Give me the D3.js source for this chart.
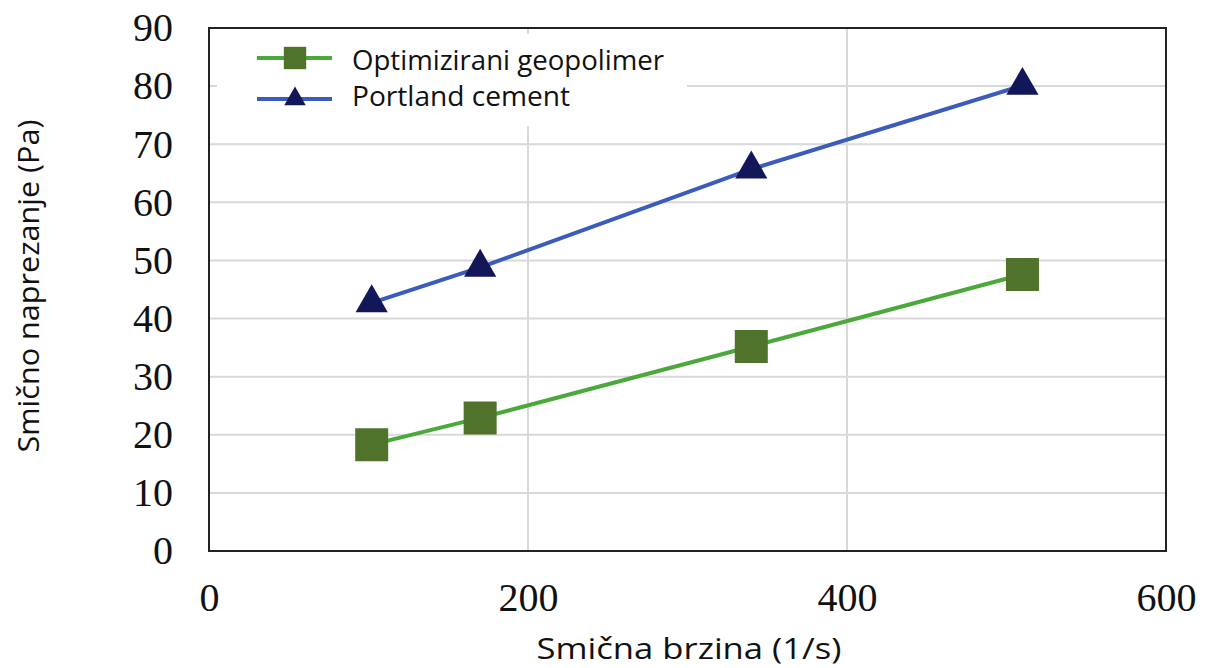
<!DOCTYPE html>
<html>
<head>
<meta charset="utf-8">
<script src="https://cdn.jsdelivr.net/npm/d3@7"></script>
<style>
  body { margin: 0; background: #fff; }
</style>
</head>
<body>
<div id="chart"></div>
<script>
// data
const shearRates = [102, 170, 340, 510];
const geopolymer = [18.3, 22.9, 35.2, 47.6];
const portland = [42.7, 48.8, 65.7, 80.1];
const xTicks = [0, 200, 400, 600];
const yTicks = [0, 10, 20, 30, 40, 50, 60, 70, 80, 90];
const seriesNames = ["Optimizirani geopolimer", "Portland cement"];

const W = 1207, H = 668;
const margin = { top: 28, right: 41, bottom: 117, left: 209 },
  width = W - margin.left - margin.right,
  height = H - margin.top - margin.bottom;

const sans = "'Open Sans', sans-serif";
const serif = "'Liberation Serif', serif";

const svg = d3.select("#chart").append("svg")
  .attr("width", W)
  .attr("height", H);

const g = svg.append("g")
  .attr("transform", "translate(" + margin.left + "," + margin.top + ")");

const x = d3.scaleLinear().domain([0, 600]).range([0, width]);
const y = d3.scaleLinear().domain([0, 90]).range([height, 0]);

// gridlines
g.selectAll(".hgrid")
  .data(yTicks.filter(d => d > 0 && d < 90))
  .enter().append("line")
    .attr("x1", 0).attr("x2", width)
    .attr("y1", d => y(d)).attr("y2", d => y(d))
    .style("stroke", "#d9d9d9")
    .style("stroke-width", 2);

g.selectAll(".vgrid")
  .data(xTicks.filter(d => d > 0 && d < 600))
  .enter().append("line")
    .attr("x1", d => x(d)).attr("x2", d => x(d))
    .attr("y1", 0).attr("y2", height)
    .style("stroke", "#d9d9d9")
    .style("stroke-width", 2);

// tick labels
const yAxis = g.append("g")
  .call(d3.axisLeft(y).tickValues(yTicks).tickSize(0).tickPadding(36));
yAxis.select(".domain").remove();
yAxis.selectAll("text")
  .style("font-family", serif)
  .style("font-size", "40px")
  .style("fill", "#111");

const xAxis = g.append("g")
  .attr("transform", "translate(0," + height + ")")
  .call(d3.axisBottom(x).tickValues(xTicks).tickSize(0).tickPadding(32));
xAxis.select(".domain").remove();
xAxis.selectAll("text")
  .style("font-family", serif)
  .style("font-size", "40px")
  .style("fill", "#111");

// lines and markers
const series = [
  { name: seriesNames[0], values: geopolymer, line: "#4ba83a", fill: "#50732b", shape: d3.symbolSquare, big: 1089, small: 500, textLen: 312 },
  { name: seriesNames[1], values: portland, line: "#3b5cbd", fill: "#14165a", shape: d3.symbolTriangle, big: 450, small: 200, textLen: 218 }
];

const line = d3.line()
  .x((d, i) => x(shearRates[i]))
  .y(d => y(d));

series.forEach(function (s) {
  g.append("path")
    .datum(s.values)
    .attr("d", line)
    .style("fill", "none")
    .style("stroke", s.line)
    .style("stroke-width", 4);

  g.selectAll(null)
    .data(s.values)
    .enter().append("path")
      .attr("transform", (d, i) => "translate(" + x(shearRates[i]) + "," + y(d) + ")")
      .attr("d", d3.symbol().type(s.shape).size(s.big))
      .style("fill", s.fill);
});

// legend with white background
const legend = g.append("g").attr("transform", "translate(8,6)");
legend.append("rect")
  .attr("width", 470).attr("height", 92)
  .style("fill", "#fff");

series.forEach(function (s, i) {
  const ly = 24 + i * 41;
  legend.append("line")
    .attr("x1", 40).attr("x2", 115)
    .attr("y1", ly).attr("y2", ly)
    .style("stroke", s.line)
    .style("stroke-width", 4);
  legend.append("path")
    .attr("transform", "translate(78," + ly + ")")
    .attr("d", d3.symbol().type(s.shape).size(s.small))
    .style("fill", s.fill);
  legend.append("text")
    .attr("x", 135)
    .attr("y", 36 + i * 36)
    .attr("textLength", s.textLen)
    .attr("lengthAdjust", "spacingAndGlyphs")
    .style("font-family", sans)
    .style("font-size", "28px")
    .style("fill", "#111")
    .text(s.name);
});

// frame
g.append("rect")
  .attr("width", width).attr("height", height)
  .style("fill", "none")
  .style("stroke", "#222")
  .style("stroke-width", 2);

// axis titles
svg.append("text")
  .attr("x", 689)
  .attr("y", 659)
  .attr("text-anchor", "middle")
  .attr("textLength", 305)
  .attr("lengthAdjust", "spacingAndGlyphs")
  .style("font-family", sans)
  .style("font-size", "29px")
  .style("fill", "#111")
  .text("Smična brzina (1/s)");

svg.append("text")
  .attr("transform", "translate(39,286) rotate(-90)")
  .attr("text-anchor", "middle")
  .attr("textLength", 333)
  .attr("lengthAdjust", "spacingAndGlyphs")
  .style("font-family", sans)
  .style("font-size", "30px")
  .style("fill", "#111")
  .text("Smično naprezanje (Pa)");
</script>
</body>
</html>
